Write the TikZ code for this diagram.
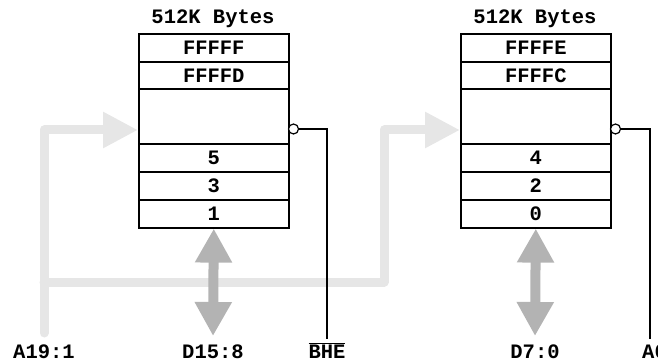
\documentclass[tikz,border=0pt]{standalone}
\usepackage{fontspec}
\newfontfamily\monob{Liberation Mono}
\usetikzlibrary{arrows.meta,calc}
\definecolor{busgray}{RGB}{230,230,230}
\definecolor{datagray}{RGB}{179,179,179}
\begin{document}
\begin{tikzpicture}[x=1pt,y=-1pt,
  txt/.style={font=\monob\bfseries\fontsize{20.5}{22}\selectfont, inner sep=0pt},
  cell/.style={txt, draw, line width=1.6pt, minimum width=150pt, anchor=north west},
  lbl/.style={txt, anchor=base},
  bubble/.style={circle, draw, fill=white, line width=1.2pt, inner sep=0pt, minimum size=10pt},
  sig/.style={line width=1.2pt},
  bus/.style={busgray, line width=9pt, line cap=round, line join=round, -{Triangle[width=34pt,length=35pt]}},
  data/.style={datagray, line width=10pt, {Triangle[width=35pt,length=34pt]}-{Triangle[width=35pt,length=34pt]}}
]
\useasboundingbox (0,0) rectangle (658,363);

% ---------- bus coordinates ----------
\coordinate (abot) at (44,333);
\coordinate (atop) at (44,130);
\coordinate (abr) at (44,282);
\coordinate (bcor) at (384,282);
\coordinate (bup) at (384,130);

% ---------- left memory ----------
\node[lbl] (ltitle) at (213,24) {512K Bytes};
\node[cell, minimum height=28pt] (l1) at (138,33) {FFFFF};
\node[cell, minimum height=27pt] (l2) at (138,61) {FFFFD};
\node[cell, minimum height=55pt] (l3) at (138,88) {};
\node[cell, minimum height=28pt] (l4) at (138,143) {5};
\node[cell, minimum height=28pt] (l5) at (138,171) {3};
\node[cell, minimum height=28pt] (l6) at (138,199) {1};

% ---------- right memory ----------
\node[lbl] (rtitle) at (535,24) {512K Bytes};
\node[cell, minimum height=28pt] (r1) at (460,33) {FFFFE};
\node[cell, minimum height=27pt] (r2) at (460,61) {FFFFC};
\node[cell, minimum height=55pt] (r3) at (460,88) {};
\node[cell, minimum height=28pt] (r4) at (460,143) {4};
\node[cell, minimum height=28pt] (r5) at (460,171) {2};
\node[cell, minimum height=28pt] (r6) at (460,199) {0};

% ---------- bus arrows ----------
\draw[bus] (abot) -- (atop) -- (l3.west |- atop);
\draw[bus] (abr) -- (bcor) -- (bup) -- (r3.west |- bup);

% ---------- bottom labels ----------
\node[lbl] (la) at (44,358) {A19:1};
\node[lbl] (ld) at (213,358) {D15:8};
\node[lbl] (lbhe) at (327,358) {$\overline{\hbox{\monob\bfseries\fontsize{20.5}{22}\selectfont BHE}}$};
\node[lbl] (rd) at (535,358) {D7:0};
\node[lbl, anchor=base west] (ra0) at (642,358) {A0};

% ---------- data arrows ----------
\coordinate (ldend) at (213,336);
\coordinate (rdend) at (535,336);
\draw[data] (l6.south) -- (ldend);
\draw[data] (r6.south) -- (rdend);

% ---------- select lines ----------
\node[bubble] (lb) at (293.5,129) {};
\node[bubble] (rb) at (615.5,129) {};
\coordinate (lend) at (327,339);
\coordinate (rend) at (650,339);
\draw[sig] (lb.east) -| (lend);
\draw[sig] (rb.east) -| (rend);
\end{tikzpicture}
\end{document}
